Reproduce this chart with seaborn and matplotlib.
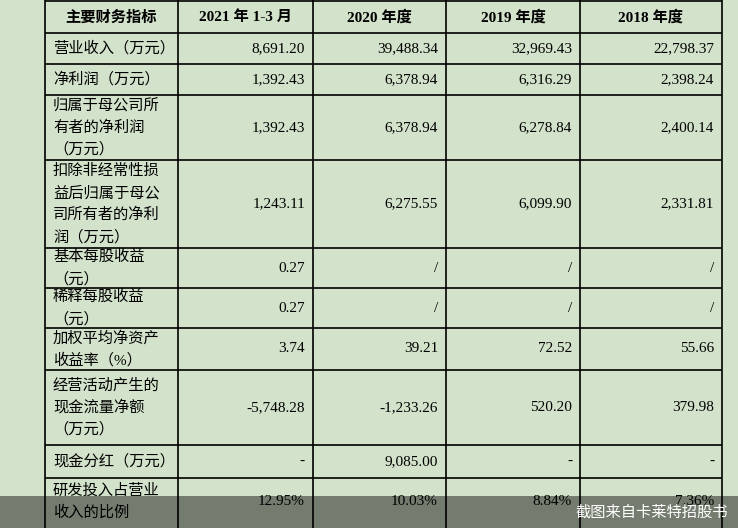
import matplotlib
matplotlib.use("Agg")
import matplotlib.pyplot as plt
import seaborn as sns

sns.set_theme(style="white")
plt.rcParams['font.family'] = ['Liberation Serif', 'Noto Sans CJK SC', 'DejaVu Sans']

headers = ["主要财务指标", "2021 年 1-3 月", "2020 年度", "2019 年度", "2018 年度"]
metrics = [
    ["营业收入（万元）"],
    ["净利润（万元）"],
    ["归属于母公司所", "有者的净利润", "（万元）"],
    ["扣除非经常性损", "益后归属于母公", "司所有者的净利", "润（万元）"],
    ["基本每股收益", "（元）"],
    ["稀释每股收益", "（元）"],
    ["加权平均净资产", "收益率（%）"],
    ["经营活动产生的", "现金流量净额", "（万元）"],
    ["现金分红（万元）"],
    ["研发投入占营业", "收入的比例"],
]
v2021q1 = ["8,691.20", "1,392.43", "1,392.43", "1,243.11", "0.27", "0.27", "3.74", "-5,748.28", "-", "12.95%"]
v2020 = ["39,488.34", "6,378.94", "6,378.94", "6,275.55", "/", "/", "39.21", "-1,233.26", "9,085.00", "10.03%"]
v2019 = ["32,969.43", "6,316.29", "6,278.84", "6,099.90", "/", "/", "72.52", "520.20", "-", "8.84%"]
v2018 = ["22,798.37", "2,398.24", "2,400.14", "2,331.81", "/", "/", "55.66", "379.98", "-", "7.36%"]

cols = [45, 178, 313, 446, 580, 722]
rows = [0, 33, 64, 95, 160, 248, 288, 328, 370, 445, 478, 540]

fig = plt.figure(figsize=(7.38, 5.28), dpi=100)
fig.patch.set_facecolor("#d3e2cb")
ax = fig.add_axes([0, 0, 1, 1])
ax.set_facecolor("#d3e2cb")
ax.set_xlim(0, 738)
ax.set_ylim(528, 0)
ax.axis("off")

ax.hlines(rows[1:-1] + [1], cols[0], cols[-1], color="black", lw=1.2)
ax.vlines(cols, 0, 528, color="black", lw=1.2)

for i, h in enumerate(headers):
    ax.text((cols[i] + cols[i + 1]) / 2, (rows[0] + rows[1]) / 2 + 1, h, ha="center", va="center",
            fontsize=11, fontweight="bold", color="black")

values = [v2021q1, v2020, v2019, v2018]
lh = 22
for r, lines in enumerate(metrics):
    top, bot = rows[r + 1], rows[r + 2]
    if r == len(metrics) - 1:
        bot = 525
    cy = (top + bot) / 2
    n = len(lines)
    for k, ln in enumerate(lines):
        y = cy + (k - (n - 1) / 2) * lh
        ax.text(cols[0] + 8, y, ln, ha="left", va="center", fontsize=11, color="black")
    for c, vals in enumerate(values):
        ax.text(cols[c + 2] - 8, cy, vals[r], ha="right", va="center", fontsize=11, color="black")

ax.add_patch(plt.Rectangle((0, 496), 738, 32, color="black", alpha=0.45, lw=0, zorder=5))
ax.text(728, 512, "截图来自卡莱特招股书", ha="right", va="center", fontsize=11,
        color="white", zorder=6, family=['Noto Sans CJK SC', 'DejaVu Sans'])

fig.savefig("out.png", dpi=100, facecolor=fig.get_facecolor())
